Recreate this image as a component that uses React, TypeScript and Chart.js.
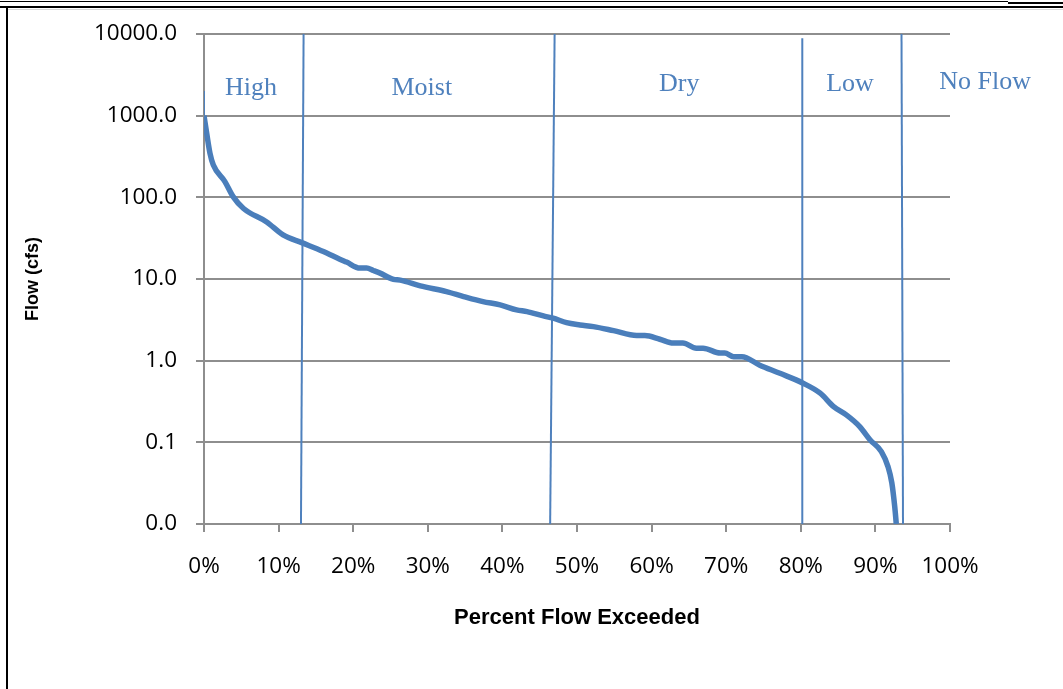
import React, { useEffect, useRef } from "react";
import { Chart, registerables } from "chart.js";

Chart.register(...registerables);

// Flow duration curve data (percent of time flow exceeded vs flow in cfs)
const pctExceeded = [
  0, 0.36, 0.8, 1.25, 2.8, 3.9, 5.3, 8.4, 10.6, 13.1, 16, 18.2, 19.1, 20.9, 21.8,
  22.7, 23.6, 25.4, 26.3, 29, 32.5, 34.8, 37.4, 39.7, 41.9, 43.3, 45.5, 46.8,
  48.6, 50.4, 52.2, 54.9, 58, 59.1, 61.1, 62.9, 64.2, 66, 66.9, 69.2, 69.8, 71,
  72.1, 74.5, 77.2, 80.3, 82.6, 84.4, 86.1, 87.9, 89.3, 90.8, 91.7, 92.2, 92.6,
  92.8,
];
const flowCfs = [
  1000, 610, 347, 249, 156, 102, 73, 50, 34.7, 27.9, 21.7, 17.5, 16.1, 13.6, 13.6,
  12.7, 11.8, 9.9, 9.7, 8.24, 7.0, 6.1, 5.29, 4.82, 4.18, 3.99, 3.53, 3.31,
  2.92, 2.74, 2.61, 2.33, 2.03, 2.03, 1.83, 1.64, 1.64, 1.42, 1.42, 1.24, 1.24,
  1.12, 1.12, 0.88, 0.7, 0.53, 0.4, 0.274, 0.217, 0.156, 0.107, 0.077, 0.05,
  0.032, 0.016, 0.01,
];

// short thin segment at 0%
const startSegPct = [0, 0];
const startSegFlow = [2000, 1000];

// zone boundaries
const boundaryTopPct = [13.35, 47.0, 80.2, 93.5];
const boundaryBottomPct = [13.0, 46.4, 80.2, 93.7];
const boundaryTopFlow = [10000, 10000, 8900, 10000];
const boundaryBottomFlow = [0.01, 0.01, 0.01, 0.01];

// zone names
const zoneNames = ["High", "Moist", "Dry", "Low", "No Flow"];
const zoneLabelPct = [6.3, 29.2, 63.7, 86.6, 104.7];

// axis ticks
const yTickValues = [0.01, 0.1, 1, 10, 100, 1000, 10000];
const yTickLabels = ["0.0", "0.1", "1.0", "10.0", "100.0", "1000.0", "10000.0"];
const xTickValues = [0, 10, 20, 30, 40, 50, 60, 70, 80, 90, 100];
const xTickLabels = ["0%", "10%", "20%", "30%", "40%", "50%", "60%", "70%", "80%", "90%", "100%"];

const zoneLabelBaseline = [95, 94.5, 91, 91, 89];

const BLUE = "#4A7EBB";
const GRID = "#8E8E8E";
const TICK_FONT = { family: '"Open Sans"', size: 22.5 };

export default function App() {
  const ref = useRef<HTMLCanvasElement | null>(null);

  useEffect(() => {
    if (!ref.current) return;
    const curve = pctExceeded.map((x, i) => ({ x, y: flowCfs[i] }));
    const startSeg = startSegPct.map((x, i) => ({ x, y: startSegFlow[i] }));
    const boundaryDatasets = boundaryTopPct.map((t, i) => ({
      data: [
        { x: t, y: boundaryTopFlow[i] },
        { x: boundaryBottomPct[i], y: boundaryBottomFlow[i] },
      ],
      borderColor: "#4F81BD",
      borderWidth: 2,
      pointRadius: 0,
      tension: 0,
      fill: false,
    }));

    const zonePlugin = {
      id: "zoneLabels",
      afterDraw(chart: any) {
        const ctx = chart.ctx;
        const xs = chart.scales.x;
        ctx.save();
        ctx.font = '26px "Liberation Serif"';
        ctx.fillStyle = "#4F81BD";
        ctx.textAlign = "center";
        ctx.textBaseline = "alphabetic";
        zoneNames.forEach((n, i) => {
          ctx.fillText(n, xs.getPixelForValue(zoneLabelPct[i]), zoneLabelBaseline[i]);
        });
        ctx.restore();
      },
    };

    const chart = new Chart(ref.current, {
      type: "line",
      data: {
        datasets: [
          {
            data: curve,
            borderColor: BLUE,
            borderWidth: 5.5,
            pointRadius: 0,
            cubicInterpolationMode: "monotone",
            fill: false,
          },
          {
            data: startSeg,
            borderColor: "#4F81BD",
            borderWidth: 2,
            pointRadius: 0,
            fill: false,
          },
          ...boundaryDatasets,
        ] as any,
      },
      plugins: [zonePlugin],
      options: {
        animation: false,
        responsive: false,
        devicePixelRatio: 1,
        layout: { padding: { left: 0, top: 34, right: 113, bottom: 0 } },
        plugins: { legend: { display: false }, tooltip: { enabled: false } },
        scales: {
          x: {
            type: "linear",
            min: 0,
            max: 100,
            afterBuildTicks(scale: any) {
              scale.ticks = xTickValues.map((v) => ({ value: v }));
            },
            afterFit(scale: any) {
              scale.height = 165;
            },
            ticks: {
              padding: 21,
              color: "#000",
              font: TICK_FONT,
              maxRotation: 0,
              autoSkip: false,
              callback: (v: any) => xTickLabels[xTickValues.indexOf(Number(v))] ?? "",
            },
            grid: {
              drawOnChartArea: false,
              drawTicks: true,
              tickLength: 8,
              color: GRID,
              lineWidth: 2,
            },
            border: { display: true, color: GRID, width: 2 },
            title: {
              display: true,
              text: "Percent Flow Exceeded",
              color: "#000",
              font: { family: '"Liberation Sans"', size: 22, weight: "bold" },
              padding: { top: 0, bottom: 58 },
            },
          },
          y: {
            type: "logarithmic",
            min: 0.01,
            max: 10000,
            afterBuildTicks(scale: any) {
              scale.ticks = yTickValues.map((v) => ({ value: v }));
            },
            afterFit(scale: any) {
              scale.width = 204;
            },
            ticks: {
              padding: 19,
              color: "#000",
              font: TICK_FONT,
              autoSkip: false,
              callback: (v: any) => {
                const i = yTickValues.findIndex((t) => Math.abs(t - Number(v)) < t * 1e-6);
                return i >= 0 ? yTickLabels[i] : "";
              },
            },
            grid: {
              drawOnChartArea: true,
              drawTicks: true,
              tickLength: 8,
              color: GRID,
              lineWidth: 2,
            },
            border: { display: true, color: GRID, width: 2 },
            title: {
              display: true,
              text: "Flow (cfs)",
              color: "#000",
              font: { family: '"Liberation Sans"', size: 18, weight: "bold" },
              padding: { top: 22, bottom: 0 },
            },
          },
        },
      } as any,
    });
    return () => chart.destroy();
  }, []);

  const line = (style: React.CSSProperties) => (
    <div style={{ position: "absolute", background: "#000", ...style }} />
  );

  return (
    <div
      style={{
        position: "fixed",
        left: 0,
        top: 0,
        width: 1063,
        height: 689,
        background: "#fff",
        overflow: "hidden",
      }}
    >
      <canvas
        ref={ref}
        width={1063}
        height={689}
        style={{ position: "absolute", left: 0, top: 0, width: 1063, height: 689 }}
      />
      {line({ top: 1, left: 0, width: 1008, height: 1 })}
      {line({ top: 2, left: 1008, width: 55, height: 2 })}
      {line({ top: 6, left: 0, width: 1063, height: 2 })}
      {line({ top: 9, left: 8, width: 1055, height: 1, background: "#d9d9d9" })}
      {line({ top: 8, left: 6, width: 2, height: 681 })}
    </div>
  );
}
